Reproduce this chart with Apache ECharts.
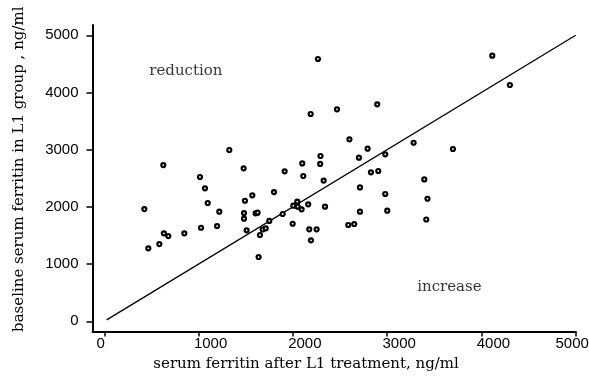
<!DOCTYPE html>
<html>
<head>
<meta charset="utf-8">
<script src="https://cdn.jsdelivr.net/npm/echarts@6/dist/echarts.min.js"></script>
<style>
  html, body { margin: 0; padding: 0; background: #fff; }
  #main { width: 589px; height: 381px; }
</style>
</head>
<body>
<div id="main"></div>
<script>
// ferritin after L1 treatment (x) vs baseline ferritin (y), ng/ml
var afterL1 = [425, 467, 584, 632, 679, 849, 1026, 1196, 1068, 1097, 1220, 1492, 1570, 1482, 1482,
  1605, 1626, 1510, 1637, 1651, 1680, 1712, 1750, 1800, 2327, 2712, 2980, 3394, 3428, 3415,
  2712, 3001, 2588, 2651, 2163, 2341, 1998, 2174, 2252, 2192, 1892, 2005, 2047, 2051, 2093,
  626, 1326, 2189, 2468, 2600, 1015, 1478, 1913, 2100, 2111, 2293, 2290, 4115, 4302, 2895,
  2793, 2701, 2980, 3281, 3698, 2828, 2906, 2266];
var baseline = [1963, 1276, 1351, 1538, 1491, 1538, 1636, 1666, 2325, 2068, 1916, 2108, 2202, 1893, 1794,
  1888, 1899, 1591, 1124, 1509, 1605, 1625, 1755, 2260, 2460, 2340, 2226, 2480, 2143, 1780,
  1916, 1934, 1684, 1701, 2045, 2004, 1706, 1608, 1608, 1416, 1876, 2021, 2091, 2004, 1958,
  2732, 2995, 3624, 3706, 3182, 2523, 2675, 2622, 2760, 2540, 2890, 2752, 4643, 4131, 3794,
  3018, 2861, 2919, 3122, 3012, 2605, 2628, 4586];
var fitLine = [[25, 25], [5000, 5000]];
var tickValues = [0, 1000, 2000, 3000, 4000, 5000];
var notes = [[477, 4376, 'reduction'], [3319, 600, 'increase']];

var points = [];
for (var i = 0; i < afterL1.length; i++) {
  points.push([afterL1[i], baseline[i]]);
}

var chart = echarts.init(document.getElementById('main'));

var serif = 'DejaVu Serif';
var sans = 'Liberation Sans';

var option = {
  backgroundColor: '#fff',
  animation: false,
  grid: {
    left: 92.5,
    right: 13.3,
    top: 25,
    bottom: 49.5,
    containLabel: false,
    outerBoundsMode: 'none'
  },
  xAxis: {
    type: 'value',
    min: -125,
    max: 5000,
    name: 'serum ferritin after L1 treatment, ng/ml',
    nameLocation: 'middle',
    nameGap: 10,
    nameTextStyle: { fontFamily: serif, fontSize: 15, color: '#000', padding: [0, 56, 0, 0] },
    axisLine: { onZero: false, lineStyle: { color: '#000', width: 2 } },
    axisTick: { customValues: tickValues, length: 5, lineStyle: { color: '#000', width: 1.5 } },
    axisLabel: {
      customValues: tickValues,
      margin: 5,
      color: '#000',
      fontFamily: sans,
      fontSize: 15,
      formatter: function (v) {
        if (v > 0 && v < 5000) return '{s|' + v + '}';
        return '{e|' + v + '}';
      },
      rich: {
        s: { fontFamily: sans, fontSize: 15, color: '#000', padding: [0, 0, 0, 24] },
        e: { fontFamily: sans, fontSize: 15, color: '#000', padding: [0, 7, 0, 0] }
      }
    },
    splitLine: { show: false }
  },
  yAxis: {
    type: 'value',
    min: -178,
    max: 5180,
    name: 'baseline serum ferritin in L1 group , ng/ml',
    nameLocation: 'middle',
    nameGap: 66,
    nameTextStyle: { fontFamily: serif, fontSize: 15, color: '#000', padding: [0, 0, 0, 18] },
    axisLine: { onZero: false, lineStyle: { color: '#000', width: 2 } },
    axisTick: { customValues: tickValues, length: 6, lineStyle: { color: '#000', width: 1.5 } },
    axisLabel: {
      customValues: tickValues,
      margin: 14,
      color: '#000',
      fontFamily: sans,
      fontSize: 15,
      formatter: function (v) { return String(v); }
    },
    splitLine: { show: false }
  },
  series: [
    {
      type: 'line',
      data: fitLine,
      symbol: 'none',
      lineStyle: { color: '#000', width: 1.3 },
      silent: true,
      z: 1
    },
    {
      type: 'scatter',
      data: points,
      symbol: 'circle',
      symbolSize: 4,
      itemStyle: { color: '#fff', borderColor: '#000', borderWidth: 2.2, opacity: 1 },
      z: 2
    },
    {
      type: 'scatter',
      data: notes,
      symbolSize: 0,
      silent: true,
      label: {
        show: true,
        position: 'right',
        distance: 0,
        formatter: function (p) { return p.data[2]; },
        fontFamily: serif,
        fontSize: 15,
        color: '#000'
      }
    }
  ]
};

chart.setOption(option);
</script>
</body>
</html>
